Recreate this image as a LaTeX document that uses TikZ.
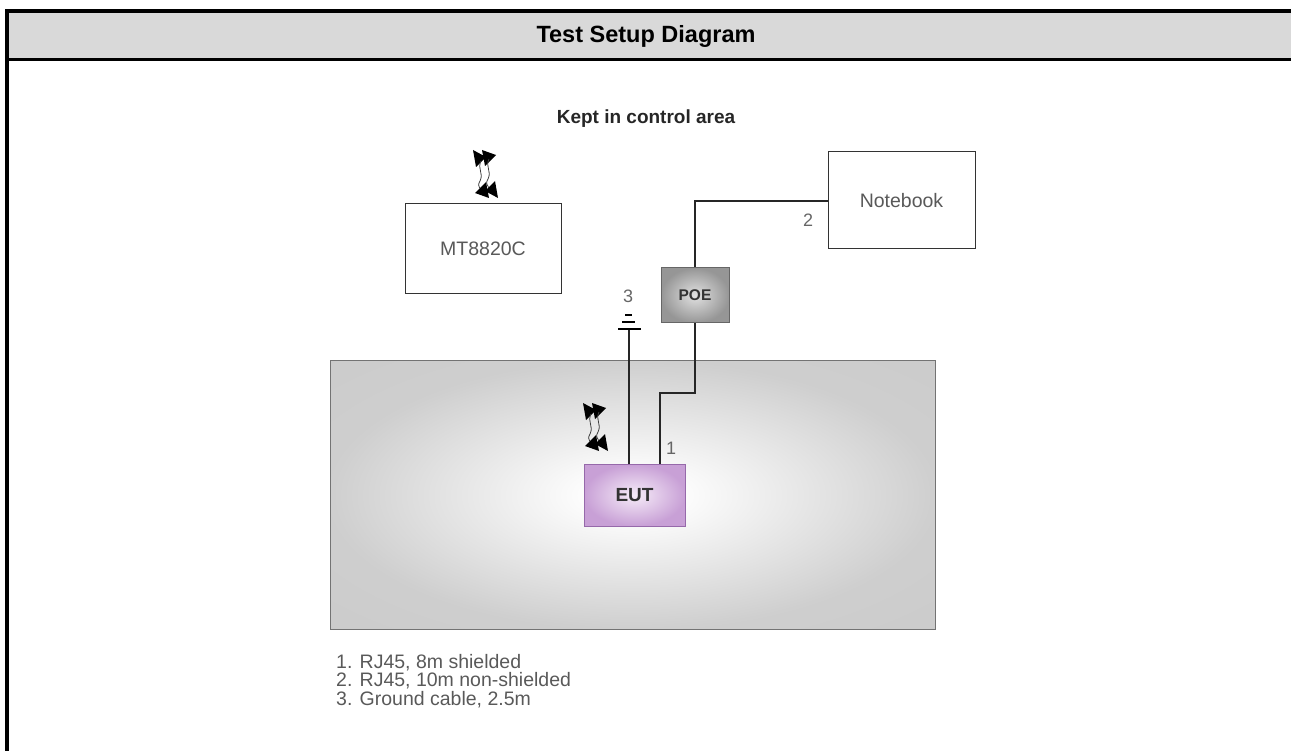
\documentclass[tikz,border=0pt]{standalone}
\usepackage{fontspec}
\setmainfont{Liberation Sans}
\pgfdeclareradialshading{roomshade}{\pgfpoint{0bp}{0bp}}{color(0bp)=(white); color(3bp)=(white); color(25bp)=(black!19); color(50bp)=(black!22)}
\begin{document}
\begin{tikzpicture}[x=1pt,y=-1pt,
  box/.style={draw=black!80,line width=1pt,fill=white,rectangle,inner sep=0pt,text=black!65,font=\fontsize{19.5}{22}\selectfont},
  cable/.style={draw=black!85,line width=1.1pt},
  lbl/.style={text=black!60,font=\fontsize{18}{20}\selectfont,inner sep=0pt},
  antenna/.pic={
    \fill[black] (0,0) -- (3,17) -- (13,7) -- cycle;
    \fill[black] (9,0) -- (12,16) -- (23,5) -- cycle;
    \draw[black!75,line width=0.8pt] (8,11) .. controls (4,19) and (11,23) .. (7,31) .. controls (5,35) .. (8,40);
    \draw[black!75,line width=0.8pt] (16,9) .. controls (12,17) and (19,21) .. (15,29) .. controls (13,33) .. (16,38);
    \fill[black] (25,48) -- (22,31) -- (12,41) -- cycle;
    \fill[black] (16,48) -- (13,32) -- (2,43) -- cycle;
  }]
\useasboundingbox (0,0) rectangle (1291,751);
% outer frame
\fill[fill={rgb,255:red,217;green,217;blue,217}] (7,13) rectangle (1291,59);
\draw[line width=4pt] (7,751) -- (7,11) -- (1291,11);
\draw[line width=3pt] (7,60) -- (1291,60);
\node[font=\bfseries\fontsize{23.5}{27}\selectfont,inner sep=0pt] (title) at (646,36) {Test Setup Diagram};
\node[font=\bfseries\fontsize{19}{22}\selectfont,text=black!85,inner sep=0pt] (area) at (646,119) {Kept in control area};
% shielded area
\shade[shading=roomshade] (330,361) rectangle (935,629);
\draw[draw=black!55,line width=1pt] (330,361) rectangle (935,629);
\node[inner sep=0pt,minimum width=605pt,minimum height=268pt] (room) at (632.5,495) {};
% boxes
\node[box,minimum width=156pt,minimum height=90pt] (mt) at (483,249) {MT8820C};
\node[box,minimum width=147pt,minimum height=97pt] (nb) at (901.5,200.5) {Notebook};
\node[draw=black!60,line width=1pt,shading=radial,inner color={rgb,255:red,225;green,225;blue,225},outer color={rgb,255:red,150;green,150;blue,150},minimum width=68pt,minimum height=55pt,inner sep=0pt,font=\bfseries\fontsize{15.5}{18}\selectfont,text=black!80] (poe) at (695,295.5) {POE};
\node[draw={rgb,255:red,150;green,105;blue,170},line width=1pt,shading=radial,inner color={rgb,255:red,246;green,236;blue,248},outer color={rgb,255:red,200;green,160;blue,214},minimum width=101pt,minimum height=62pt,inner sep=0pt,font=\bfseries\fontsize{19}{22}\selectfont,text=black!80] (eut) at (634.5,495) {EUT};
% antennas
\pic at (473,150) {antenna};
\pic at (583,403) {antenna};
% cable 2
\draw[cable] (nb.west |- 0,201) -- (695,201) -- (poe.north);
\node[lbl] (l2) at (808,220) {2};
% cable 1
\draw[cable] (poe.south) -- (695,393) -- (660,393) -- (660,464);
\node[lbl] (l1) at (671,448) {1};
% ground cable 3
\coordinate (gnd) at (629,329);
\draw[cable] (629,464) -- (gnd);
\draw[line width=1.2pt] (618,329) -- (641,329);
\draw[line width=1.2pt] (622,322) -- (635,322);
\draw[line width=1.2pt] (625,315) -- (632,315);
\node[lbl] (l3) at (628,296) {3};
% legend
\node[anchor=north west,align=left,inner sep=0pt,text=black!65,font=\fontsize{19.5}{18.5}\selectfont] (legend) at (336,654) {1. RJ45, 8m shielded\\2. RJ45, 10m non-shielded\\3. Ground cable, 2.5m};
\end{tikzpicture}
\end{document}
